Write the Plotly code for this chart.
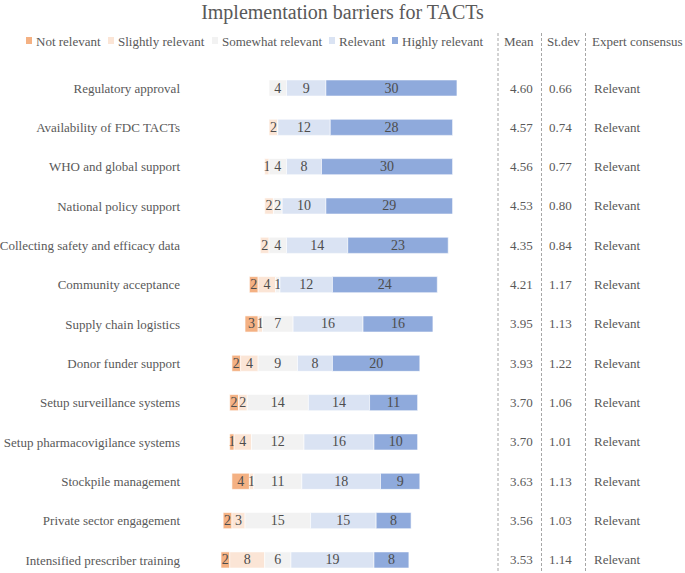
import plotly.graph_objects as go

# ---------------- data ----------------
categories = [
    "Regulatory approval",
    "Availability of FDC TACTs",
    "WHO and global support",
    "National policy support",
    "Collecting safety and efficacy data",
    "Community acceptance",
    "Supply chain logistics",
    "Donor funder support",
    "Setup surveillance systems",
    "Setup pharmacovigilance systems",
    "Stockpile management",
    "Private sector engagement",
    "Intensified prescriber training",
]
series_names = ["Not relevant", "Slightly relevant", "Somewhat relevant", "Relevant", "Highly relevant"]
not_relevant      = [0, 0, 0, 0, 0, 2, 3, 2, 2, 1, 4, 2, 2]
slightly_relevant = [0, 2, 1, 2, 2, 4, 1, 4, 2, 4, 1, 3, 8]
somewhat_relevant = [4, 0, 4, 2, 4, 1, 7, 9, 14, 12, 11, 15, 6]
relevant          = [9, 12, 8, 10, 14, 12, 16, 8, 14, 16, 18, 15, 19]
highly_relevant   = [30, 28, 30, 29, 23, 24, 16, 20, 11, 10, 9, 8, 8]
mean_values  = ["4.60", "4.57", "4.56", "4.53", "4.35", "4.21", "3.95", "3.93", "3.70", "3.70", "3.63", "3.56", "3.53"]
stdev_values = ["0.66", "0.74", "0.77", "0.80", "0.84", "1.17", "1.13", "1.22", "1.06", "1.01", "1.13", "1.03", "1.14"]
consensus    = ["Relevant"] * 13
column_headers = ["Mean", "St.dev", "Expert consensus"]
title_text = "Implementation barriers for TACTs"

# ---------------- styles ----------------
colors = ["#F4B183", "#FBE5D6", "#F2F2F2", "#DAE3F3", "#8FAADC"]
FONT = "Liberation Serif"
GRAY = "#595959"
W_FIG, H_FIG = 685, 573
ML, MR, MT, MB = 190, 0, 60, 0
PW, PH = W_FIG - ML - MR, H_FIG - MT - MB

def fx(px):
    return (px - ML) / PW

def fy(py):
    return 1 - (py - MT) / PH

series = [not_relevant, slightly_relevant, somewhat_relevant, relevant, highly_relevant]

# diverging: centre of "Somewhat relevant" at zero
starts = [-(a + b + c / 2) for a, b, c in zip(not_relevant, slightly_relevant, somewhat_relevant)]

fig = go.Figure()
cum = list(starts)
for name, vals, col in zip(series_names, series, colors):
    fig.add_trace(go.Bar(
        name=name, y=categories, x=vals, base=list(cum), orientation="h",
        marker=dict(color=col, line=dict(color="white", width=0.6)),
        text=[str(v) if v > 0 else "" for v in vals],
        textposition="inside", insidetextanchor="middle", textangle=0,
        textfont=dict(family=FONT, size=14, color="#4d4d4d"),
        width=0.41, showlegend=False, cliponaxis=False, hoverinfo="skip",
    ))
    cum = [c + v for c, v in zip(cum, vals)]

# px per unit 4.37, zero at 277.8 px
zero_px, ppu = 277.8, 4.37
xr = [(ML - zero_px) / ppu, (W_FIG - MR - zero_px) / ppu]
row0, row_step = 88, 39.33
yr = [12 + (H_FIG - MB - (row0 + 12 * row_step)) / row_step, -(row0 - MT) / row_step]

annotations = []
shapes = []
# custom legend
leg_sq = [26, 108, 212, 329, 392]
for name, col, sx in zip(series_names, colors, leg_sq):
    shapes.append(dict(type="rect", xref="paper", yref="paper",
                       x0=fx(sx), x1=fx(sx + 6), y0=fy(44), y1=fy(37),
                       fillcolor=col, line=dict(width=0)))
    annotations.append(dict(text=name, xref="paper", yref="paper", x=fx(sx + 8), y=fy(41),
                            xanchor="left", yanchor="middle", showarrow=False,
                            font=dict(family=FONT, size=13, color=GRAY)))

# table columns
hdr_x = [519, 563, 590]
hdr_anchor = ["center", "center", "left"]
for h, hx, an in zip(column_headers, hdr_x, hdr_anchor):
    annotations.append(dict(text=h, xref="paper", yref="paper", x=fx(hx), y=fy(41),
                            xanchor=an, yanchor="middle", showarrow=False,
                            font=dict(family=FONT, size=13, color=GRAY)))
col_x = [521, 560, 592]
for vals, cx, an in zip([mean_values, stdev_values, consensus], col_x, hdr_anchor):
    for cat, v in zip(categories, vals):
        annotations.append(dict(text=v, xref="paper", yref="y", x=fx(cx), y=cat,
                                xanchor=an, yanchor="middle", showarrow=False,
                                font=dict(family=FONT, size=13, color=GRAY)))

for lx in [498, 541.5, 585.5]:
    shapes.append(dict(type="line", xref="paper", yref="paper",
                       x0=fx(lx), x1=fx(lx), y0=fy(33), y1=fy(573),
                       line=dict(color="#A6A6A6", width=1, dash="3px,2px")))

fig.update_layout(
    width=W_FIG, height=H_FIG,
    margin=dict(l=ML, r=MR, t=MT, b=MB),
    paper_bgcolor="white", plot_bgcolor="white",
    barmode="overlay",
    title=dict(text=title_text, x=0.5, xref="container", xanchor="center",
               y=1 - 12 / H_FIG, yref="container", yanchor="middle",
               font=dict(family=FONT, size=20, color=GRAY)),
    xaxis=dict(range=xr, visible=False, fixedrange=True),
    yaxis=dict(range=yr, type="category", categoryorder="array", categoryarray=categories,
               showgrid=False, zeroline=False, showline=False, ticks="",
               ticklabelstandoff=9, fixedrange=True,
               tickfont=dict(family=FONT, size=13, color=GRAY)),
    uniformtext=dict(minsize=14, mode="show"),
    showlegend=False,
    annotations=annotations, shapes=shapes,
    font=dict(family=FONT, color=GRAY),
)
fig.write_html("out.html", config={"displayModeBar": False},
               post_script="document.body.style.margin='0';document.body.style.overflow='hidden';")
